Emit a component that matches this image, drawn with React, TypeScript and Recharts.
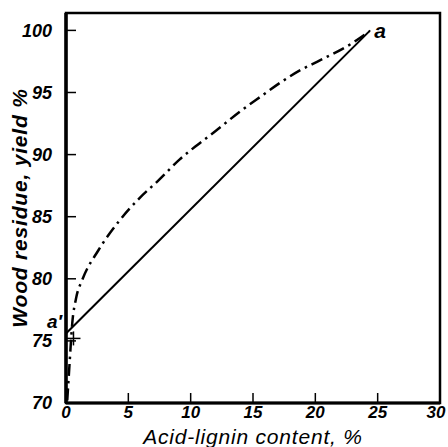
import React from 'react';
import {
  ComposedChart,
  Line,
  XAxis,
  YAxis,
  ReferenceArea,
  ReferenceDot,
} from 'recharts';

// straight line a'–a
const straightX = [0, 24.4];
const straightY = [75.6, 100.0];

// dash-dot curve
const curveX = [0.1, 0.3, 0.5, 0.8, 1.3, 2.6, 4.3, 5.9, 7.5, 9.1, 10.7, 12, 14, 15.8, 17.2, 18.8, 20.4, 23, 24.3];
const curveY = [70.2, 73.4, 76.4, 78.4, 79.9, 82.3, 84.7, 86.5, 88.0, 89.6, 90.9, 91.9, 93.5, 94.8, 95.8, 96.8, 97.6, 99.0, 99.9];

const xTicks = [0, 5, 10, 15, 20, 25, 30];
const yTicks = [70, 75, 80, 85, 90, 95, 100];

const straight = straightX.map((x, i) => ({ x, y: straightY[i] }));
const curve = curveX.map((x, i) => ({ x, y: curveY[i] }));

const FONT = '"Liberation Sans", Arial, sans-serif';

const YLabel = (props: any) => {
  const vb = props.viewBox || { x: 0, y: 0, height: 0 };
  const cx = vb.x + 19;
  const cy = vb.y + vb.height / 2;
  return (
    <text
      x={cx}
      y={cy}
      transform={`rotate(-90, ${cx}, ${cy})`}
      textAnchor="middle"
      dominantBaseline="central"
      fontFamily={FONT}
      fontStyle="italic"
      fontWeight="bold"
      fontSize={21}
      letterSpacing={0.8}
      fill="#000"
    >
      Wood residue, yield %
    </text>
  );
};

// x tick text; the last one is nudged so it stays inside the page
const XTick = (props: any) => {
  const { x, y, payload } = props;
  const last = payload.value === xTicks[xTicks.length - 1];
  return (
    <text
      x={last ? x - 4 : x}
      y={y - 2}
      dy="0.8em"
      textAnchor="middle"
      fontFamily={FONT}
      fontStyle="italic"
      fontWeight="bold"
      fontSize={17}
      fill="#000"
    >
      {payload.value}
    </text>
  );
};

const Cross = (props: any) => {
  const { cx, cy } = props;
  if (cx == null || cy == null) return null;
  return (
    <g stroke="#000" strokeWidth={1.5}>
      <line x1={cx - 7} y1={cy} x2={cx + 7} y2={cy} />
      <line x1={cx} y1={cy - 7} x2={cx} y2={cy + 7} />
    </g>
  );
};

export default function App() {
  const tickStyle = {
    fontFamily: FONT,
    fontStyle: 'italic',
    fontWeight: 'bold',
    fontSize: 18,
    fill: '#000',
  };
  return (
    <div style={{ position: 'absolute', left: 0, top: 0, background: '#fff' }}>
      <ComposedChart
        width={448}
        height={447}
        margin={{ top: 13, right: 8, bottom: 20, left: 0 }}
      >
        <XAxis
          type="number"
          dataKey="x"
          domain={[0, 30]}
          ticks={xTicks}
          interval={0}
          allowDataOverflow
          height={24}
          axisLine={{ stroke: '#000', strokeWidth: 3 }}
          tickLine={{ stroke: '#000', strokeWidth: 1.5 }}
          tickSize={-10}
          tickMargin={13}
          tick={<XTick />}
          label={{
            value: 'Acid-lignin content, %',
            position: 'insideBottom',
            offset: -17,
            style: {
              fontFamily: FONT,
              fontStyle: 'italic',
              fontSize: 21,
              letterSpacing: 0.8,
              fill: '#000',
            },
          }}
        />
        <YAxis
          type="number"
          dataKey="y"
          domain={[70, 101.4]}
          ticks={yTicks}
          interval={0}
          allowDataOverflow
          width={66}
          axisLine={{ stroke: '#000', strokeWidth: 3.5 }}
          tickLine={{ stroke: '#000', strokeWidth: 1.5 }}
          tickSize={-10}
          tickMargin={24}
          tick={tickStyle}
          label={<YLabel />}
        />
        <ReferenceArea
          x1={0}
          x2={30}
          y1={70}
          y2={101.4}
          fill="none"
          stroke="#000"
          strokeWidth={2.5}
          ifOverflow="visible"
        />
        <Line
          data={straight}
          dataKey="y"
          type="linear"
          stroke="#000"
          strokeWidth={2}
          dot={false}
          isAnimationActive={false}
        />
        <Line
          data={curve}
          dataKey="y"
          type="monotone"
          stroke="#000"
          strokeWidth={2.5}
          strokeDasharray="12 5 2.5 5"
          dot={false}
          isAnimationActive={false}
        />
        <ReferenceDot x={0.6} y={75.2} r={0} shape={<Cross />} ifOverflow="visible" />
        <ReferenceDot
          x={24.4}
          y={100.0}
          r={0}
          fill="none"
          stroke="none"
          ifOverflow="visible"
          label={{
            value: 'a',
            position: 'right',
            offset: 4,
            style: { fontFamily: FONT, fontStyle: 'italic', fontWeight: 'bold', fontSize: 21, fill: '#000' },
          }}
        />
        <ReferenceDot
          x={0}
          y={76.6}
          r={0}
          fill="none"
          stroke="none"
          ifOverflow="visible"
          label={{
            value: "a′",
            position: 'left',
            offset: 4,
            style: { fontFamily: FONT, fontStyle: 'italic', fontWeight: 'bold', fontSize: 19, fill: '#000' },
          }}
        />
      </ComposedChart>
    </div>
  );
}
